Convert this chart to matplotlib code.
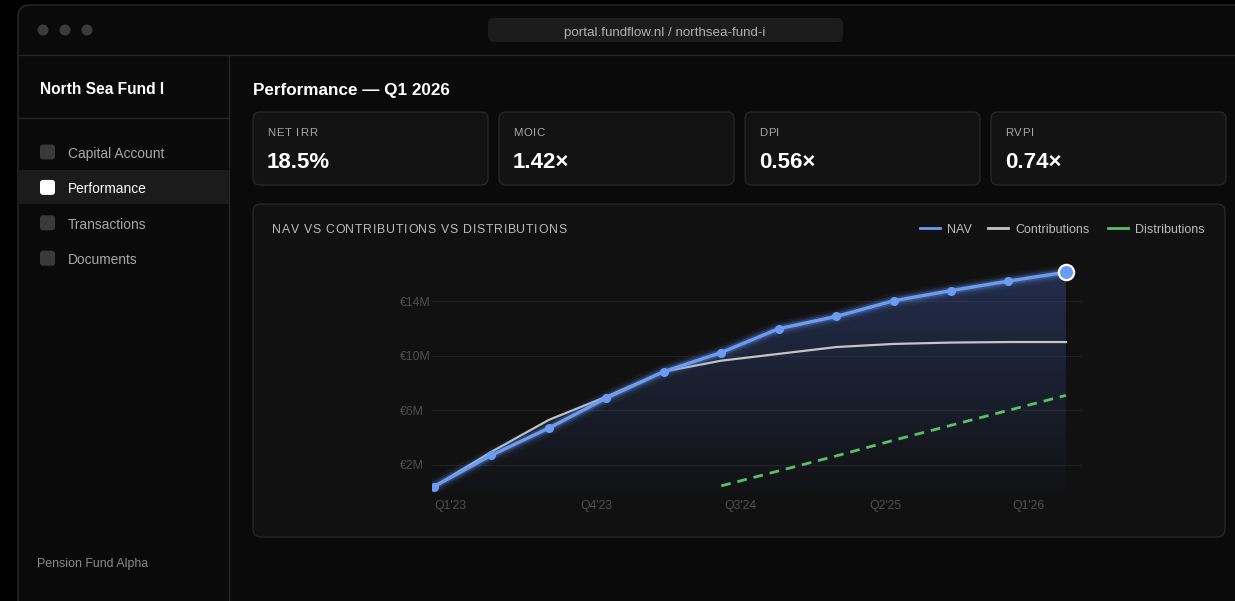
import numpy as np
import matplotlib
matplotlib.use("Agg")
import matplotlib.pyplot as plt
from matplotlib.patches import FancyBboxPatch, Rectangle, Circle
from matplotlib.font_manager import FontProperties, findfont, get_font

plt.rcParams['font.family'] = ['Liberation Sans', 'DejaVu Sans']

# ---- data ----
quarters = np.arange(12)
nav = [0.4, 2.7, 4.7, 6.9, 8.85, 10.25, 12.0, 12.9, 14.05, 14.8, 15.5, 16.15]
contributions = [0.4, 2.95, 5.3, 7.0, 8.85, 9.65, 10.15, 10.65, 10.88, 10.98, 11.02, 11.02]
distributions = [np.nan, np.nan, np.nan, np.nan, np.nan, 0.45, 1.55, 2.65, 3.8, 4.9, 6.0, 7.1]
x_tick_pos = [0.28, 2.82, 5.34, 7.86, 10.35]
x_tick_labels = ["Q1'23", "Q4'23", "Q3'24", "Q2'25", "Q1'26"]
y_ticks = [2, 6, 10, 14]
y_tick_labels = ["€2M", "€6M", "€10M", "€14M"]

kpi_labels = ["NET IRR", "MOIC", "DPI", "RVPI"]
kpi_values = ["18.5%", "1.42×", "0.56×", "0.74×"]
menu_items = ["Capital Account", "Performance", "Transactions", "Documents"]
active_item = "Performance"

NAV_C = '#6b9bf2'
CON_C = '#c4c4c4'
DIS_C = '#58c067'

W, H = 1235, 601
fig = plt.figure(figsize=(W / 100, H / 100), dpi=100, facecolor='#000000')

# ---- UI frame, pixel coordinates ----
ui = fig.add_axes([0, 0, 1, 1])
ui.set_xlim(0, W)
ui.set_ylim(H, 0)
ui.axis('off')


def rbox(x, y, w, h, fc, ec, r=8, lw=1.0, z=1):
    ui.add_patch(FancyBboxPatch((x, y), w, h, boxstyle=f"round,pad=0,rounding_size={r}",
                                fc=fc, ec=ec, lw=lw, zorder=z))


def spaced(x, y, s, spacing, fontsize, **kw):
    # letter-spaced text: each glyph centred in its own advance box
    font = get_font(findfont(FontProperties(family='Liberation Sans')))
    font.set_size(fontsize, 100)
    for ch in s:
        adv = font.load_char(ord(ch)).linearHoriAdvance / 65536
        if ch != ' ':
            ui.text(x + adv / 2, y, ch, fontsize=fontsize, ha='center', **kw)
        x += adv + spacing


# window
rbox(18, 5, 1240, 620, '#0a0a0a', '#2a2a2a', r=12)
ui.plot([18, W], [55, 55], color='#262626', lw=1, zorder=2)
for cx in [43, 65, 87]:
    ui.add_patch(Circle((cx, 30), 5.5, fc='#3b3b3b', ec='none', zorder=2))
rbox(488, 18, 355, 24, '#1c1c1c', 'none', r=6, z=2)
ui.text(665, 33, "portal.fundflow.nl / northsea-fund-i", color='#b0b0b0', fontsize=9.6,
        ha='center', va='center', zorder=3)

# sidebar
ui.plot([229, 229], [55, H], color='#262626', lw=1, zorder=2)
ui.plot([18, 229], [118, 118], color='#262626', lw=1, zorder=2)
ui.text(40, 90, "North Sea Fund I", color='white', fontsize=11.2, fontweight='bold',
        va='center', zorder=3)
for i, item in enumerate(menu_items):
    yc = 152 + i * 35.4
    active = item == active_item
    if active:
        ui.add_patch(Rectangle((18, yc - 17), 211, 34, fc='#1b1b1b', ec='none', zorder=2))
    rbox(40, yc - 7.5, 15, 15, 'white' if active else '#3a3a3a', 'none', r=3, z=3)
    ui.text(68, yc + 2, item, color='white' if active else '#a8a8a8', fontsize=9.9,
            va='center', zorder=3)
ui.text(37, 564, "Pension Fund Alpha", color='#8a8a8a', fontsize=8.9, va='center', zorder=3)

# header
ui.text(253, 90, "Performance — Q1 2026", color='white', fontsize=12.3, fontweight='bold',
        va='center', zorder=3)

# KPI cards
card_x = [253, 499, 745, 991]
for cx, lab, val in zip(card_x, kpi_labels, kpi_values):
    rbox(cx, 112, 235, 73, '#131313', '#262626', r=7, z=2)
    spaced(cx + 14, 133, lab, 0.8, 8.2, color='#a8a8a8', va='center', zorder=3)
    ui.text(cx + 14, 163, val, color='white', fontsize=16, fontweight='bold',
            va='center', zorder=3)

# chart card
rbox(253, 204, 972, 333, '#111111', '#262626', r=8, z=2)
spaced(272, 230, "NAV VS CONTRIBUTIONS VS DISTRIBUTIONS", 0.75, 8.8, color='#bcbcbc',
       va='center', zorder=3)
leg = [(920, "NAV", NAV_C), (988, "Contributions", CON_C), (1108, "Distributions", DIS_C)]
for lx, name, c in leg:
    ui.plot([lx, lx + 20], [228, 228], color=c, lw=2, zorder=3)
    ui.text(lx + 27, 230, name, color='#bcbcbc', fontsize=9, va='center', zorder=3)

# ---- chart axes ----
left_px, right_px, top_px, bottom_px = 432, 1082, 262, 492
ax = fig.add_axes([left_px / W, (H - bottom_px) / H,
                   (right_px - left_px) / W, (bottom_px - top_px) / H], zorder=5)
ax.patch.set_visible(False)
ax.set_xlim(-0.035, 11.28)
ax.set_ylim(0, 16.9)
for s in ax.spines.values():
    s.set_visible(False)

ax.set_yticks(y_ticks)
ax.set_yticklabels(y_tick_labels)
ax.set_xticks(x_tick_pos)
ax.set_xticklabels(x_tick_labels)
ax.tick_params(axis='y', length=0, pad=23, colors='#4f4f4f', labelsize=8.8)
ax.tick_params(axis='x', length=0, pad=6, colors='#4f4f4f', labelsize=8.8)
for t in ax.get_yticklabels():
    t.set_horizontalalignment('left')
ax.grid(axis='y', color='#1f1f1f', lw=0.9, zorder=0)
ax.set_axisbelow(True)

# gradient area under NAV
poly = ax.fill_between(quarters, nav, 0, color='none', lw=0)
grad = np.zeros((256, 1, 4))
grad[:, 0, 0] = 0.30
grad[:, 0, 1] = 0.45
grad[:, 0, 2] = 0.85
grad[:, 0, 3] = np.linspace(0.02, 0.30, 256)
img = ax.imshow(grad, extent=[quarters[0], quarters[-1], 0, max(nav)], origin='lower',
                aspect='auto', zorder=1)
img.set_clip_path(poly.get_paths()[0], transform=ax.transData)

ax.plot(quarters, contributions, color=CON_C, lw=1.6, zorder=3)
ax.plot(quarters, distributions, color=DIS_C, lw=2, ls=(0, (3.5, 2.5)), zorder=3)

# NAV glow + line
for lw, a in [(11, 0.06), (7.5, 0.12), (4.8, 0.25)]:
    ax.plot(quarters, nav, color=NAV_C, lw=lw, alpha=a, solid_capstyle='round', zorder=4)
ax.plot(quarters, nav, color=NAV_C, lw=2.4, marker='o', ms=5.5, mec=NAV_C,
        solid_capstyle='round', zorder=5)
ax.plot(quarters[-1:], nav[-1:], 'o', color=NAV_C, ms=11, mec='white', mew=1.6, zorder=6)

fig.savefig("out.png", dpi=100, facecolor=fig.get_facecolor())
